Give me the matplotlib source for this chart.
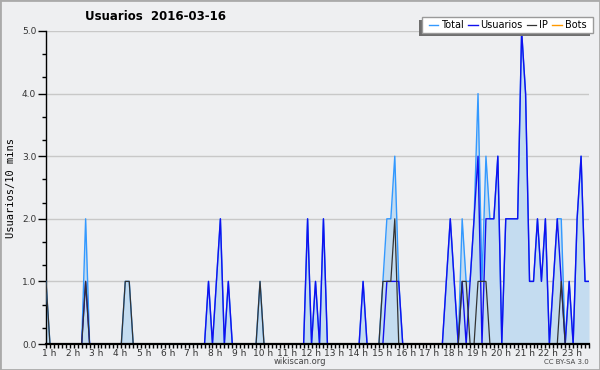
import matplotlib
matplotlib.use("Agg")
import matplotlib.pyplot as plt
import matplotlib.transforms as mtransforms
from matplotlib.patches import Rectangle
from matplotlib.ticker import FixedLocator, FuncFormatter

# 10-minute samples starting at 1 h
usuarios = [0, 0, 0, 0, 0, 0, 0, 0, 0, 0,   # 0
            1, 0, 0, 0, 0, 0, 0, 0, 0, 0,   # 10
            0, 0, 0, 0, 0, 0, 0, 0, 0, 0,   # 20
            0, 0, 0, 0, 0, 0, 0, 0, 0, 0,   # 30
            0, 1, 0, 1, 2, 0, 1, 0, 0, 0,   # 40
            0, 0, 0, 0, 0, 0, 0, 0, 0, 0,   # 50
            0, 0, 0, 0, 0, 0, 2, 0, 1, 0,   # 60
            2, 0, 0, 0, 0, 0, 0, 0, 0, 0,   # 70
            1, 0, 0, 0, 0, 0, 1, 1, 1, 1,   # 80
            0, 0, 0, 0, 0, 0, 0, 0, 0, 0,   # 90
            0, 1, 2, 1, 0, 1, 0, 1, 2, 3,   # 100
            0, 2, 2, 2, 3, 0, 2, 2, 2, 2,   # 110
            5, 4, 1, 1, 2, 1, 2, 0, 1, 2,   # 120
            1, 0, 1, 0, 2, 3, 1, 1]         # 130
ip = [1, 0, 0, 0, 0, 0, 0, 0, 0, 0,
      1, 0, 0, 0, 0, 0, 0, 0, 0, 0,
      1, 1, 0, 0, 0, 0, 0, 0, 0, 0,
      0, 0, 0, 0, 0, 0, 0, 0, 0, 0,
      0, 0, 0, 0, 0, 0, 0, 0, 0, 0,
      0, 0, 0, 0, 1, 0, 0, 0, 0, 0,
      0, 0, 0, 0, 0, 0, 0, 0, 0, 0,
      0, 0, 0, 0, 0, 0, 0, 0, 0, 0,
      0, 0, 0, 0, 0, 1, 1, 1, 2, 0,
      0, 0, 0, 0, 0, 0, 0, 0, 0, 0,
      0, 0, 0, 0, 0, 1, 1, 0, 0, 1,
      1, 1, 0, 0, 0, 0, 0, 0, 0, 0,
      0, 0, 0, 0, 0, 0, 0, 0, 0, 0,
      1, 0, 0, 0, 0, 0, 0, 0]
bots = [0] * len(usuarios)
total = [u + i + b for u, i, b in zip(usuarios, ip, bots)]
hours = [1 + k / 6 for k in range(len(usuarios))]
hour_ticks = list(range(1, 24))

bg = "#eeeff1"
fig = plt.figure(figsize=(6, 3.7), dpi=100, facecolor=bg)
ax = fig.add_axes([46 / 600, 26 / 370, 543 / 600, 313 / 370], facecolor=bg)

ax.fill_between(hours, total, 0, color="#c4dcf0", lw=0, zorder=1)
ax.plot(hours, total, color="#3399ff", lw=1.0, label="Total", zorder=3)
ax.plot(hours, usuarios, color="#1010ee", lw=1.0, label="Usuarios", zorder=4)
ax.plot(hours, ip, color="#333333", lw=0.9, label="IP", zorder=5)
ax.plot(hours, bots, color="#ff9900", lw=1.0, label="Bots", zorder=1.5)

ax.set_xlim(hours[0], hours[-1])
ax.set_ylim(0, 5)
ax.grid(axis="y", color="#c8c8c8", lw=1, zorder=0.5)
ax.set_axisbelow(True)

for s in ["top", "right"]:
    ax.spines[s].set_visible(False)
ax.spines["bottom"].set_linewidth(1.6)
ax.spines["left"].set_linewidth(1.0)
ax.spines["bottom"].set_zorder(6)

ax.xaxis.set_major_locator(FixedLocator(hour_ticks))
ax.xaxis.set_minor_locator(FixedLocator(hours))
ax.xaxis.set_major_formatter(FuncFormatter(lambda v, p: "%d h" % v))
ax.tick_params(axis="x", which="both", direction="out", length=3, width=1,
               labelsize=6.5, pad=0.5, labelcolor="#333333")

ax.yaxis.set_major_locator(FixedLocator([0, 1, 2, 3, 4, 5]))
ax.yaxis.set_minor_locator(FixedLocator([v + f for v in range(5) for f in (0.26, 0.63)]))
ax.yaxis.set_major_formatter(FuncFormatter(lambda v, p: "%.1f" % v))
ax.tick_params(axis="y", which="major", direction="out", length=6, width=1,
               labelsize=6.5, pad=1, labelcolor="#333333")
ax.tick_params(axis="y", which="minor", direction="out", length=3, width=1)

# hour labels sit just right of their ticks in the original
offset = mtransforms.ScaledTranslation(3 / 100, 0, fig.dpi_scale_trans)
for lab in ax.get_xticklabels():
    lab.set_transform(lab.get_transform() + offset)

ax.set_ylabel("Usuarios/10 mins", fontsize=7.5, family="DejaVu Sans Mono",
              labelpad=4)
fig.text(85 / 600, 1 - 17 / 370, "Usuarios  2016-03-16", fontsize=8.5,
         fontweight="bold", va="center", ha="left")
fig.text(300 / 600, 1 - 362 / 370, "wikiscan.org", fontsize=6,
         color="#444444", ha="center", va="center")
fig.text(589 / 600, 1 - 362 / 370, "CC BY-SA 3.0", fontsize=5,
         color="#444444", ha="right", va="center")

# legend box with a shadow offset to the lower left (pixel positions of the original)
W, H = 600, 370
box_x0, box_x1, box_y0, box_y1 = 422, 593, 17, 33
ax.add_patch(Rectangle(((box_x0 - 3) / W, 1 - (box_y1 + 3) / H),
                       (box_x1 - box_x0) / W, (box_y1 - box_y0) / H,
                       transform=fig.transFigure, facecolor="#6e6e6e",
                       edgecolor="none", zorder=8, clip_on=False))
ax.add_patch(Rectangle((box_x0 / W, 1 - box_y1 / H),
                       (box_x1 - box_x0) / W, (box_y1 - box_y0) / H,
                       transform=fig.transFigure, facecolor="white",
                       edgecolor="#9a9a9a", lw=1, zorder=9, clip_on=False))
leg = ax.legend(loc="center", bbox_to_anchor=((box_x0 + box_x1) / 2 / W,
                                              1 - (box_y0 + box_y1) / 2 / H),
                bbox_transform=fig.transFigure, ncol=4, fontsize=7,
                frameon=False, handlelength=1.0, handletextpad=0.3,
                columnspacing=0.4, borderpad=0, borderaxespad=0)
leg.set_zorder(10)

fig.patches.append(Rectangle((0, 0), 1, 1, transform=fig.transFigure, fill=False,
                             edgecolor="#aaaaaa", lw=2, zorder=20))

fig.savefig("out.png", dpi=100, facecolor=bg)
